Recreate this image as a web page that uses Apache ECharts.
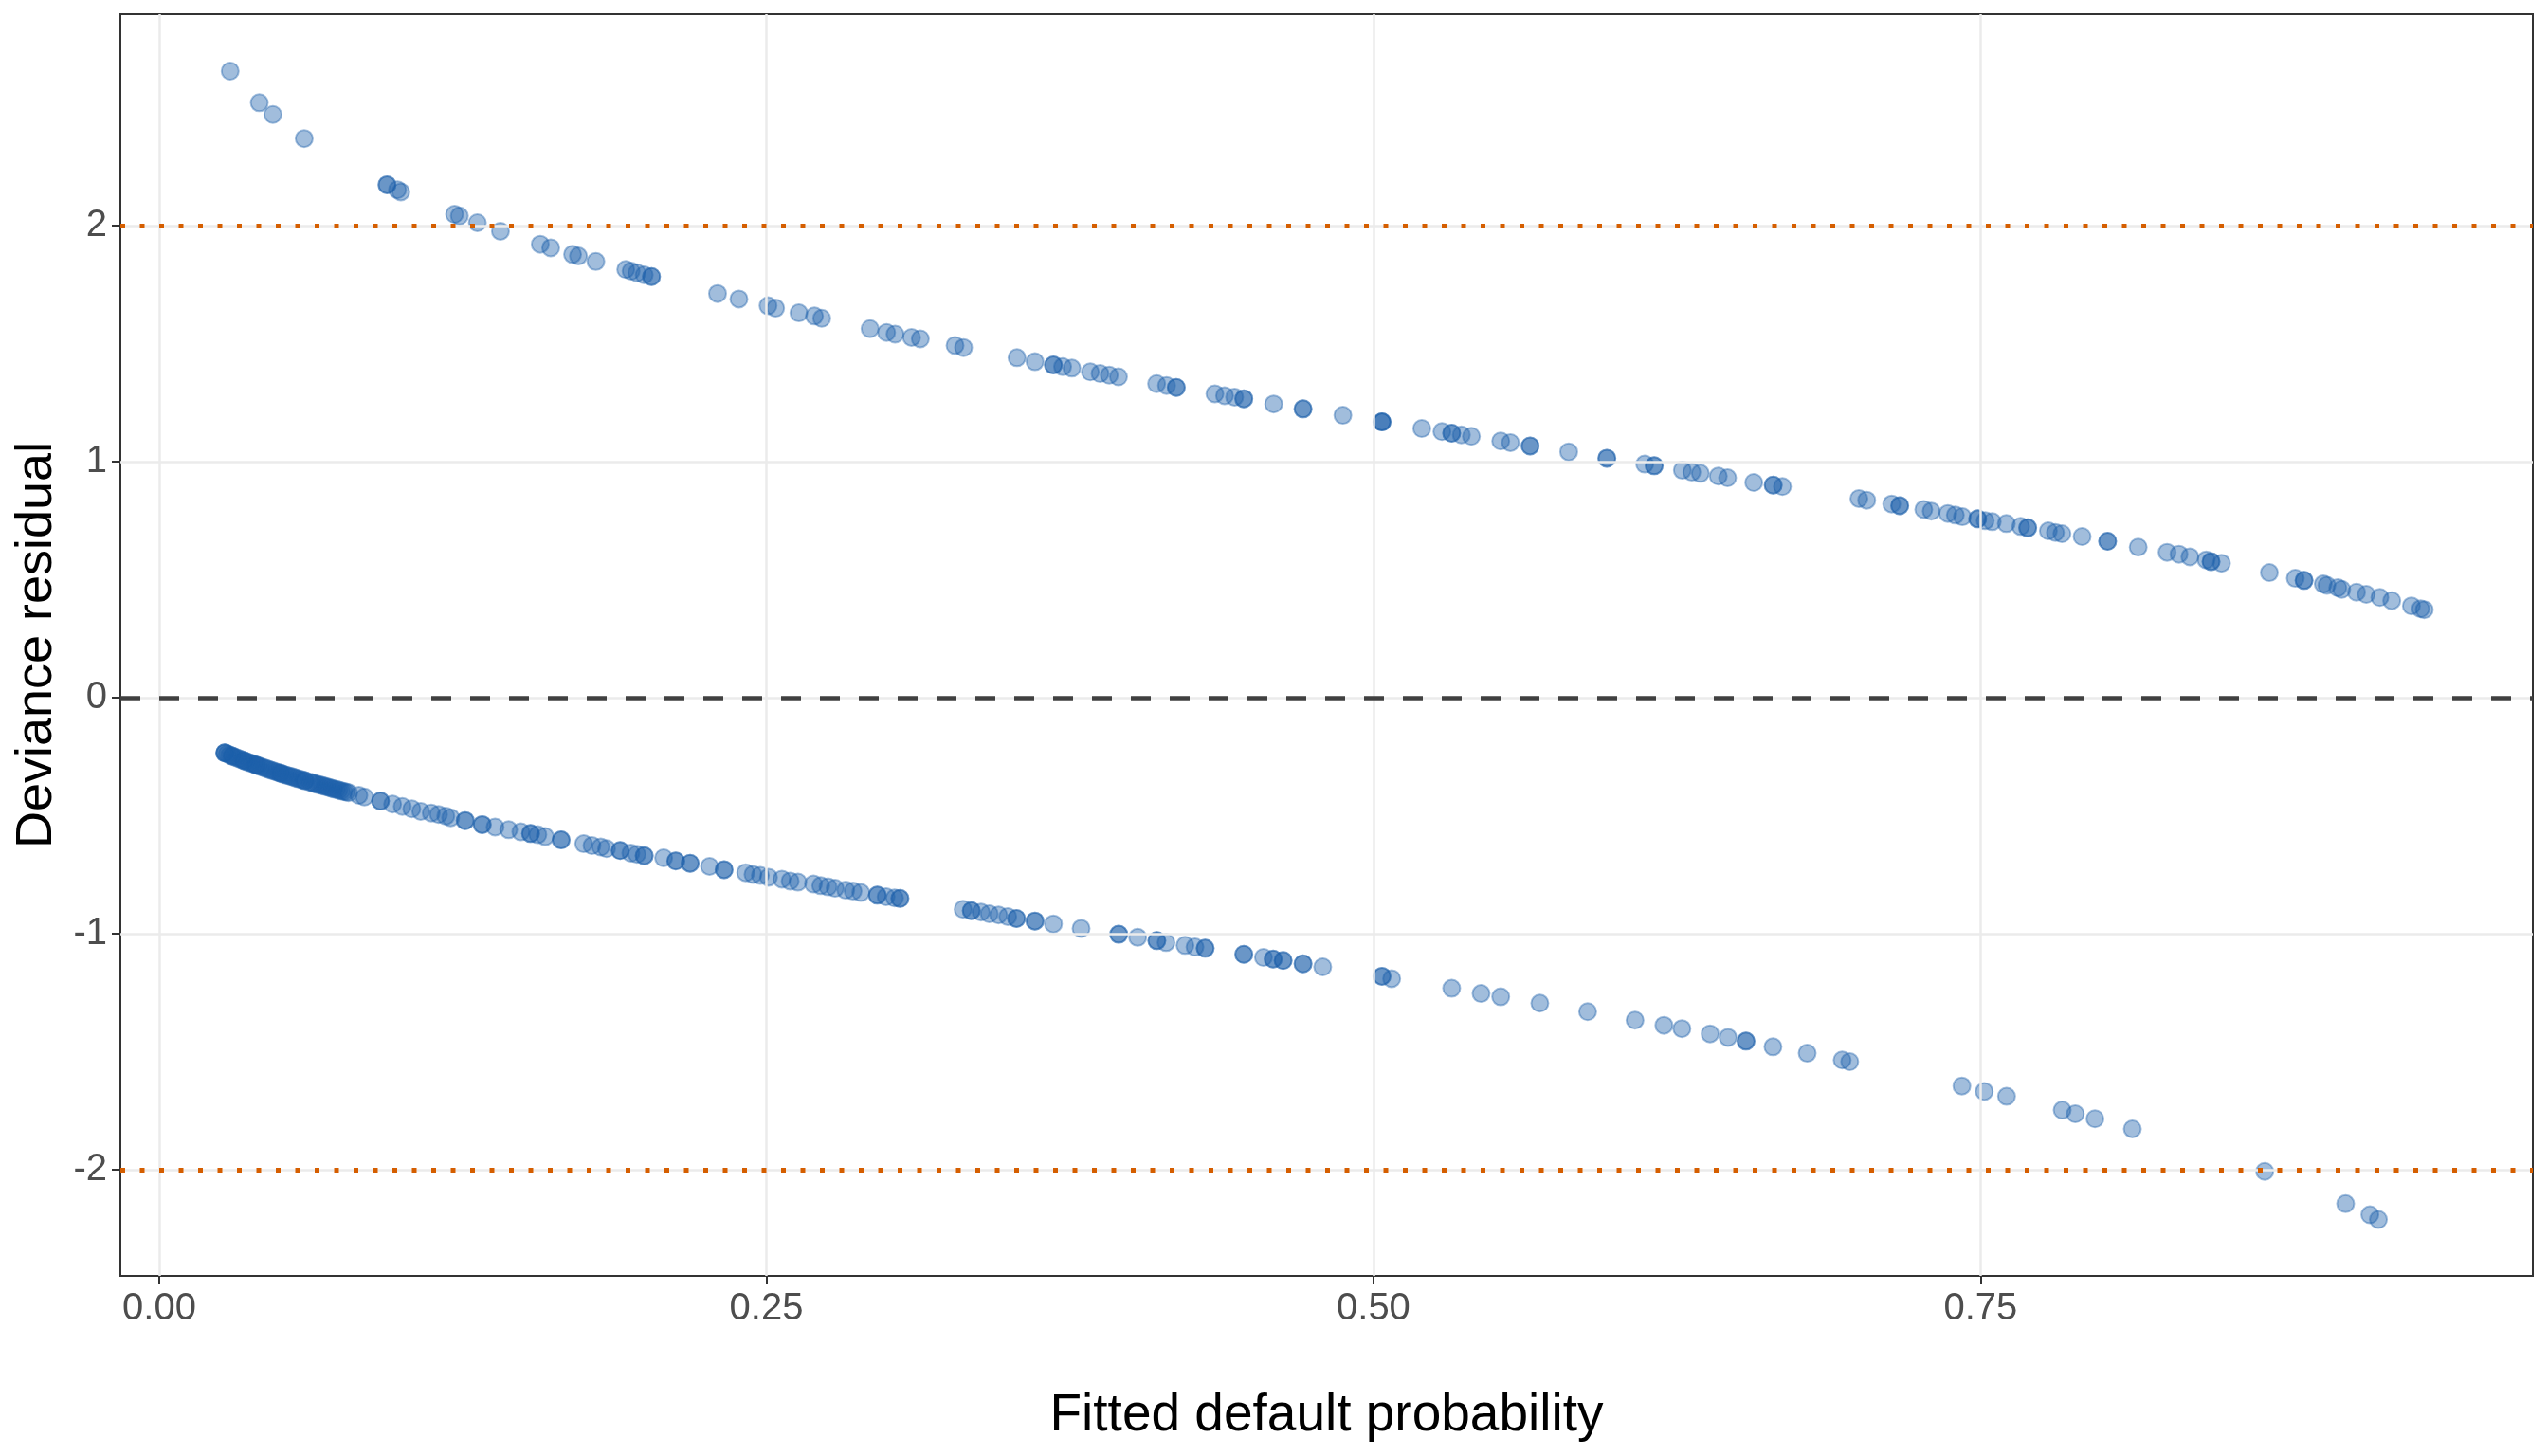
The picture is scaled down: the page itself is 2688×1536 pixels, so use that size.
<!DOCTYPE html>
<html>
<head>
<meta charset="utf-8">
<script src="https://cdn.jsdelivr.net/npm/echarts@6/dist/echarts.min.js"></script>
<style>
html,body{margin:0;padding:0;background:#fff;}
#chart{width:2688px;height:1536px;}
</style>
</head>
<body>
<div id="chart"></div>
<script>
// ---- data ----
const xTitle = 'Fitted default probability';
const yTitle = 'Deviance residual';
const xTicks = [0, 0.25, 0.5, 0.75];
const yTicks = [-2, -1, 0, 1, 2];
const xRange = [-0.016, 0.9774];
const yRange = [-2.451, 2.897];
const cutoffLevels = [-2, 2];
const zeroLevel = 0;

// observations that defaulted: [fitted probability, deviance residual]
const defaultedPoints = [
  [0.0292,2.656],[0.0412,2.522],[0.0468,2.472],[0.0597,2.370],[0.0938,2.174],[0.0938,2.174],
  [0.0981,2.153],[0.0995,2.144],[0.1216,2.049],[0.1236,2.042],[0.1310,2.013],[0.1405,1.977],
  [0.1569,1.922],[0.1612,1.907],[0.1702,1.879],[0.1726,1.872],[0.1798,1.849],[0.1921,1.815],
  [0.1943,1.808],[0.1967,1.801],[0.1997,1.792],[0.2027,1.785],[0.2027,1.785],[0.2299,1.713],
  [0.2387,1.690],[0.2507,1.661],[0.2538,1.651],[0.2634,1.631],[0.2698,1.618],[0.2728,1.608],
  [0.2927,1.564],[0.2995,1.548],[0.3030,1.541],[0.3098,1.527],[0.3134,1.521],
  [0.3277,1.493],[0.3312,1.484],[0.3532,1.441],[0.3606,1.424],[0.3682,1.410],[0.3682,1.410],
  [0.3720,1.403],[0.3758,1.397],[0.3834,1.381],[0.3874,1.374],[0.3912,1.367],[0.3950,1.360],
  [0.4107,1.331],[0.4148,1.323],[0.4188,1.315],[0.4188,1.315],[0.4347,1.288],[0.4387,1.280],
  [0.4428,1.274],[0.4466,1.267],[0.4466,1.267],[0.4589,1.245],[0.4710,1.224],[0.4710,1.224],
  [0.4874,1.197],[0.5035,1.169],[0.5035,1.169],[0.5035,1.169],[0.5199,1.141],[0.5282,1.128],
  [0.5322,1.121],[0.5322,1.121],[0.5362,1.114],[0.5403,1.108],[0.5524,1.088],[0.5564,1.081],
  [0.5645,1.067],[0.5645,1.067],[0.5804,1.042],[0.5961,1.015],[0.5961,1.015],[0.6117,0.990],
  [0.6156,0.983],[0.6156,0.983],[0.6272,0.964],[0.6311,0.956],[0.6346,0.951],[0.6420,0.939],
  [0.6458,0.932],[0.6566,0.912],[0.6646,0.901],[0.6646,0.901],[0.6684,0.895],[0.6999,0.844],
  [0.7031,0.837],[0.7134,0.821],[0.7167,0.814],[0.7167,0.814],[0.7266,0.798],[0.7297,0.791],
  [0.7365,0.781],[0.7396,0.774],[0.7425,0.767],[0.7488,0.758],[0.7488,0.758],[0.7519,0.750],
  [0.7548,0.746],[0.7606,0.738],[0.7665,0.726],[0.7694,0.720],[0.7694,0.720],[0.7779,0.707],
  [0.7808,0.700],[0.7835,0.695],[0.7918,0.683],[0.8023,0.663],[0.8023,0.663],[0.8149,0.638],
  [0.8268,0.616],[0.8317,0.608],[0.8362,0.597],[0.8429,0.584],[0.8449,0.577],[0.8449,0.577],
  [0.8492,0.570],[0.8689,0.530],[0.8796,0.506],[0.8832,0.497],[0.8832,0.497],[0.8911,0.482],
  [0.8926,0.476],[0.8971,0.466],[0.8987,0.459],[0.9048,0.447],[0.9088,0.438],[0.9144,0.425],
  [0.9193,0.411],[0.9274,0.389],[0.9312,0.377],[0.9327,0.373]
];

// observations that did not default: [fitted probability, deviance residual]
const nonDefaultPoints = [
  [0.027,-0.234],[0.027,-0.234],[0.027,-0.234],[0.028,-0.238],[0.029,-0.243],[0.030,-0.247],
  [0.030,-0.247],[0.031,-0.251],[0.032,-0.255],[0.033,-0.259],[0.034,-0.263],[0.035,-0.267],
  [0.035,-0.267],[0.036,-0.271],[0.037,-0.275],[0.038,-0.278],[0.039,-0.282],[0.040,-0.286],
  [0.040,-0.286],[0.041,-0.289],[0.042,-0.293],[0.043,-0.296],[0.044,-0.300],[0.045,-0.303],
  [0.046,-0.307],[0.047,-0.310],[0.048,-0.314],[0.049,-0.317],[0.050,-0.320],[0.050,-0.320],
  [0.051,-0.324],[0.052,-0.327],[0.053,-0.330],[0.054,-0.333],[0.055,-0.336],[0.056,-0.340],
  [0.057,-0.343],[0.058,-0.346],[0.059,-0.349],[0.060,-0.352],[0.060,-0.352],[0.062,-0.358],
  [0.063,-0.361],[0.064,-0.364],[0.065,-0.367],[0.066,-0.370],[0.067,-0.372],[0.068,-0.375],
  [0.069,-0.378],[0.070,-0.381],[0.071,-0.384],[0.072,-0.387],[0.073,-0.389],[0.074,-0.392],
  [0.075,-0.395],[0.076,-0.398],[0.077,-0.400],[0.078,-0.403],
  [0.0822,-0.414],[0.0845,-0.421],[0.0911,-0.438],[0.0911,-0.438],[0.0961,-0.451],[0.1001,-0.461],
  [0.1040,-0.471],[0.1077,-0.482],[0.1120,-0.489],[0.1150,-0.495],[0.1180,-0.502],[0.1200,-0.509],
  [0.1260,-0.521],[0.1260,-0.521],[0.1330,-0.538],[0.1330,-0.538],[0.1383,-0.548],[0.1439,-0.560],
  [0.1489,-0.569],[0.1529,-0.576],[0.1529,-0.576],[0.1559,-0.581],[0.1589,-0.589],[0.1655,-0.603],
  [0.1655,-0.603],[0.1748,-0.619],[0.1782,-0.627],[0.1818,-0.633],[0.1842,-0.640],[0.1898,-0.648],
  [0.1898,-0.648],[0.1942,-0.659],[0.1967,-0.664],[0.1997,-0.670],[0.1997,-0.670],[0.2077,-0.679],
  [0.2127,-0.692],[0.2127,-0.692],[0.2186,-0.702],[0.2186,-0.702],[0.2266,-0.715],[0.2326,-0.729],
  [0.2326,-0.729],[0.2415,-0.742],[0.2445,-0.749],[0.2475,-0.753],[0.2509,-0.761],[0.2564,-0.769],
  [0.2598,-0.777],[0.2630,-0.782],[0.2694,-0.790],[0.2724,-0.797],[0.2754,-0.802],[0.2783,-0.808],
  [0.2827,-0.816],[0.2857,-0.820],[0.2889,-0.826],[0.2957,-0.837],[0.2957,-0.837],[0.2993,-0.844],
  [0.3028,-0.849],[0.3050,-0.851],[0.3050,-0.851],
  [0.3310,-0.897],[0.3344,-0.903],[0.3344,-0.903],[0.3384,-0.909],[0.3418,-0.916],[0.3456,-0.921],
  [0.3494,-0.928],[0.3530,-0.936],[0.3530,-0.936],[0.3606,-0.947],[0.3606,-0.947],[0.3682,-0.959],
  [0.3796,-0.978],[0.3951,-1.003],[0.3951,-1.003],[0.4029,-1.016],[0.4108,-1.030],[0.4108,-1.030],
  [0.4146,-1.038],[0.4224,-1.050],[0.4265,-1.057],[0.4307,-1.062],[0.4307,-1.062],[0.4466,-1.088],
  [0.4466,-1.088],[0.4547,-1.101],[0.4587,-1.108],[0.4587,-1.108],[0.4628,-1.114],[0.4628,-1.114],
  [0.4710,-1.128],[0.4710,-1.128],[0.4791,-1.141],[0.5035,-1.181],[0.5035,-1.181],[0.5075,-1.191],
  [0.5322,-1.232],[0.5443,-1.254],[0.5524,-1.268],[0.5685,-1.295],[0.5882,-1.331],[0.6077,-1.367],
  [0.6196,-1.389],[0.6270,-1.403],[0.6386,-1.425],[0.6460,-1.440],[0.6534,-1.456],[0.6534,-1.456],
  [0.6645,-1.480],[0.6786,-1.507],[0.6930,-1.536],[0.6961,-1.543],[0.7423,-1.646],[0.7515,-1.669],
  [0.7607,-1.690],[0.7836,-1.748],[0.7890,-1.764],[0.7971,-1.785],[0.8125,-1.828],[0.8670,-2.008],
  [0.9003,-2.145],[0.9103,-2.192],[0.9138,-2.212]
];

// ---- chart ----
const chart = echarts.init(document.getElementById('chart'), null, {renderer: 'canvas'});
const FONT = '"Liberation Sans", Arial, Helvetica, sans-serif';
const pointStyle = {
  color: 'rgba(28,96,170,0.52)',
  borderColor: 'rgba(28,96,170,0.5)',
  borderWidth: 2
};
const noLabel = {show: false};

const option = {
  animation: false,
  backgroundColor: '#ffffff',
  grid: {
    left: 127, right: 16, top: 15, bottom: 190,
    show: true, borderColor: '#333333', borderWidth: 2, backgroundColor: '#ffffff'
  },
  xAxis: {
    type: 'value', min: xRange[0], max: xRange[1],
    name: xTitle, nameLocation: 'middle', nameGap: 120,
    nameTextStyle: {fontSize: 55, color: '#000000', fontFamily: FONT},
    axisLine: {show: false, onZero: false},
    axisTick: {show: true, length: 9, customValues: xTicks, lineStyle: {color: '#333333', width: 2}},
    axisLabel: {
      customValues: xTicks, margin: 15, fontSize: 40, color: '#4d4d4d', fontFamily: FONT,
      formatter: v => v.toFixed(2)
    },
    splitLine: {show: false}
  },
  yAxis: {
    type: 'value', min: yRange[0], max: yRange[1],
    name: yTitle, nameLocation: 'middle', nameGap: 48,
    nameTextStyle: {fontSize: 54, color: '#000000', fontFamily: FONT},
    axisLine: {show: false, onZero: false},
    axisTick: {show: true, length: 9, customValues: yTicks, lineStyle: {color: '#333333', width: 2}},
    axisLabel: {
      customValues: yTicks, margin: 14, fontSize: 40, color: '#4d4d4d', fontFamily: FONT,
      formatter: v => String(Math.round(v))
    },
    splitLine: {show: false}
  },
  series: [
    {
      type: 'scatter', data: [], z: 1, silent: true,
      markLine: {
        silent: true, symbol: ['none', 'none'], label: noLabel, animation: false,
        lineStyle: {color: '#ebebeb', width: 2.5, type: 'solid'},
        emphasis: {disabled: true},
        data: xTicks.map(v => ({xAxis: v})).concat(yTicks.map(v => ({yAxis: v})))
      }
    },
    {
      type: 'scatter', data: [], z: 2, silent: true,
      markLine: {
        silent: true, symbol: ['none', 'none'], label: noLabel, animation: false,
        emphasis: {disabled: true},
        data: cutoffLevels.map(v => ({
          yAxis: v, lineStyle: {color: '#d55e00', width: 5, type: [5, 15.5], cap: 'butt'}
        })).concat([{
          yAxis: zeroLevel, lineStyle: {color: '#404040', width: 4.5, type: [21, 20], cap: 'butt'}
        }])
      }
    },
    {
      name: 'Defaulted', type: 'scatter', z: 3, symbol: 'circle', symbolSize: 18,
      data: defaultedPoints, itemStyle: pointStyle, emphasis: {disabled: true}
    },
    {
      name: 'Not defaulted', type: 'scatter', z: 3, symbol: 'circle', symbolSize: 18,
      data: nonDefaultPoints, itemStyle: pointStyle, emphasis: {disabled: true}
    }
  ]
};
chart.setOption(option);
</script>
</body>
</html>
